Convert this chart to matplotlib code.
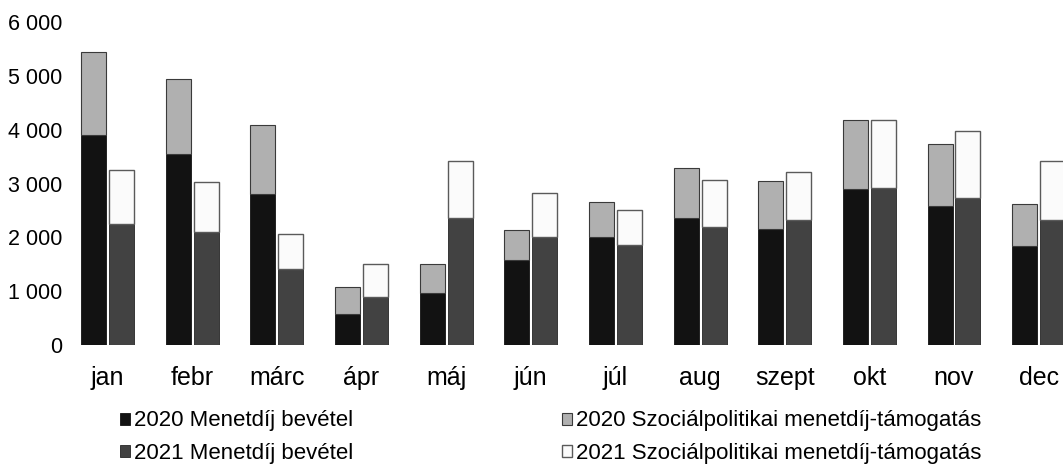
import matplotlib
matplotlib.use("Agg")
import matplotlib.pyplot as plt
import numpy as np

plt.rcParams['font.family'] = ['Liberation Sans', 'DejaVu Sans']

months = ["jan", "febr", "márc", "ápr", "máj", "jún", "júl", "aug", "szept", "okt", "nov", "dec"]
fare_2020 = [3900, 3550, 2800, 570, 970, 1575, 2000, 2360, 2150, 2900, 2590, 1830]
subsidy_2020 = [1550, 1400, 1290, 510, 540, 555, 650, 920, 890, 1280, 1140, 780]
fare_2021 = [2250, 2100, 1420, 900, 2360, 2000, 1860, 2190, 2330, 2920, 2730, 2330]
subsidy_2021 = [1000, 925, 650, 600, 1050, 820, 640, 880, 880, 1260, 1250, 1080]
yticks = [0, 1000, 2000, 3000, 4000, 5000, 6000]
ytick_labels = ["0", "1 000", "2 000", "3 000", "4 000", "5 000", "6 000"]

W, H = 1063, 474
step = 84.65          # pixel spacing between categories
first = 107.5         # pixel centre of first category
left_px = first - step / 2
fig = plt.figure(figsize=(W / 100, H / 100), dpi=100)
ax = fig.add_axes([left_px / W, 1 - 345 / H, 1 - left_px / W, (345 - 22) / H])

x = np.arange(len(months))
bw = 0.295
off = 0.165

b1 = ax.bar(x - off, fare_2020, bw, color="#121212", edgecolor="#121212", linewidth=0.6,
            label="2020 Menetdíj bevétel")
b2 = ax.bar(x + off, fare_2021, bw, color="#424242", edgecolor="#262626", linewidth=0.6,
            label="2021 Menetdíj bevétel")
b3 = ax.bar(x - off, subsidy_2020, bw, bottom=fare_2020, color="#b0b0b0", edgecolor="#3a3a3a",
            linewidth=0.8, label="2020 Szociálpolitikai menetdíj-támogatás")
b4 = ax.bar(x + off, subsidy_2021, bw, bottom=fare_2021, color="#fbfbfb", edgecolor="#5a5a5a",
            linewidth=1.0, label="2021 Szociálpolitikai menetdíj-támogatás")

ax.set_xlim(-0.5, (W - first) / step)
ax.set_ylim(0, 6000)
ax.set_yticks(yticks)
ax.set_yticklabels(ytick_labels, fontsize=15.5)
ax.set_xticks(x)
ax.set_xticklabels(months, fontsize=18)
for s in ax.spines.values():
    s.set_visible(False)
ax.tick_params(axis='both', length=0)
ax.tick_params(axis='y', pad=2)
ax.tick_params(axis='x', pad=15)

ymid = 1 - 437 / H
common = dict(loc="center left", frameon=False, fontsize=16, handlelength=0.45,
              handleheight=0.45, handletextpad=0.2, labelspacing=0.5, borderpad=0,
              borderaxespad=0)
leg1 = fig.legend([b1, b2], ["2020 Menetdíj bevétel", "2021 Menetdíj bevétel"],
                  bbox_to_anchor=(120 / W, ymid), **common)
leg2 = fig.legend([b3, b4], ["2020 Szociálpolitikai menetdíj-támogatás",
                             "2021 Szociálpolitikai menetdíj-támogatás"],
                  bbox_to_anchor=(562 / W, ymid), **common)

fig.savefig("out.png", dpi=100)
